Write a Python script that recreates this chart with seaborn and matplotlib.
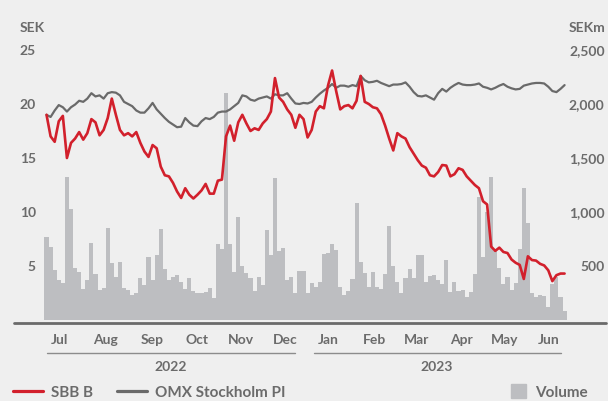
import numpy as np
import pandas as pd
import matplotlib
matplotlib.use("Agg")
import matplotlib.pyplot as plt
import seaborn as sns
from matplotlib.lines import Line2D
from matplotlib.patches import Patch

# share price (SEK) and index rebased to SBB, every second trading day
sbb_b = [
    19.0, 17.0, 16.5, 18.4, 18.9, 15.0, 16.4, 16.8, 17.4, 16.7,
    17.3, 18.6, 18.3, 17.1, 17.6, 18.7, 20.5, 19.0, 17.6, 17.1,
    17.3, 17.0, 17.4, 16.4, 15.6, 15.1, 16.2, 15.9, 14.2, 13.4,
    13.3, 12.7, 11.9, 11.3, 12.2, 11.6, 11.25, 11.6, 12.0, 12.6,
    11.7, 11.7, 12.9, 13.0, 17.0, 18.0, 16.6, 18.3, 19.0, 18.2,
    17.5, 17.75, 17.6, 18.2, 18.6, 19.3, 22.4, 20.6, 20.2, 19.5,
    19.0, 17.8, 19.0, 18.6, 16.9, 17.6, 19.3, 19.8, 19.6, 21.7,
    23.1, 21.2, 19.5, 19.8, 19.9, 19.6, 20.3, 22.6, 20.2, 20.0,
    19.7, 19.6, 19.05, 18.0, 16.8, 15.7, 17.3, 17.0, 16.8, 16.0,
    15.4, 14.8, 14.3, 14.1, 13.4, 13.3, 13.7, 14.35, 14.3, 13.3,
    13.5, 14.05, 13.9, 13.3, 12.9, 12.5, 12.2, 11.0, 10.7, 6.8,
    6.4, 6.7, 6.3, 6.2, 5.6, 5.3, 5.1, 3.8, 5.9, 5.55,
    5.5, 5.2, 5.05, 4.6, 3.6, 4.15, 4.3, 4.3,
]
omx_pi = [
    19.0, 18.8, 19.4, 19.9, 19.7, 19.3, 19.7, 19.95, 20.3, 20.2,
    20.5, 21.0, 20.7, 20.8, 20.5, 21.0, 21.1, 21.05, 20.8, 20.2,
    20.0, 19.8, 19.4, 19.2, 19.2, 19.6, 20.1, 19.5, 19.1, 18.7,
    18.35, 18.1, 17.85, 17.9, 18.7, 18.3, 18.0, 17.95, 18.4, 18.7,
    18.6, 18.8, 19.2, 19.3, 19.3, 19.5, 19.8, 20.1, 20.8, 20.7,
    20.4, 20.3, 20.5, 20.6, 20.7, 20.5, 20.9, 20.8, 20.8, 21.0,
    20.5, 20.05, 20.0, 20.1, 20.05, 20.2, 20.6, 20.95, 21.25, 21.5,
    21.85, 21.5, 21.7, 21.7, 21.6, 21.75, 21.65, 22.6, 22.2, 22.0,
    22.05, 22.15, 21.95, 21.8, 21.65, 21.8, 21.8, 21.85, 22.0, 21.6,
    21.1, 20.75, 20.7, 20.8, 20.6, 20.4, 21.0, 21.4, 21.15, 21.5,
    21.75, 21.95, 21.8, 21.75, 21.75, 21.8, 21.9, 21.6, 21.5, 21.35,
    21.5, 21.7, 21.85, 21.6, 21.45, 21.35, 21.4, 21.7, 21.8, 21.9,
    21.95, 21.95, 21.9, 21.6, 21.2, 21.1, 21.4, 21.75,
]
# turnover, SEKm
volume_sekm = [
    771, 673, 463, 370, 340, 1321, 1030, 480, 440, 290,
    370, 716, 430, 278, 300, 849, 531, 401, 540, 300,
    280, 232, 250, 386, 320, 586, 370, 600, 840, 470,
    370, 400, 417, 350, 290, 386, 270, 250, 247, 260,
    300, 200, 700, 654, 2105, 700, 440, 950, 500, 433,
    386, 270, 401, 320, 833, 600, 1312, 640, 664, 370,
    401, 247, 450, 450, 247, 340, 309, 350, 611, 620,
    700, 650, 309, 230, 270, 380, 1080, 540, 433, 310,
    440, 309, 285, 426, 870, 500, 350, 247, 386, 470,
    390, 600, 600, 355, 410, 420, 370, 330, 560, 260,
    350, 270, 278, 210, 262, 430, 1142, 580, 1000, 1327,
    640, 478, 330, 400, 278, 340, 654, 1219, 900, 250,
    210, 230, 220, 123, 330, 400, 210, 80,
]
month_labels = ["Jul", "Aug", "Sep", "Oct", "Nov", "Dec",
                "Jan", "Feb", "Mar", "Apr", "May", "Jun"]
year_labels = ["2022", "2023"]
sek_ticks = [5, 10, 15, 20, 25]
sekm_ticks = [500, 1000, 1500, 2000, 2500]

RED = "#d2202c"
GRAY = "#6a6a6a"
BAR = "#bdbec1"
BG = "#efefef"
TXT = "#6b6b6b"

trading_days = pd.bdate_range("2022-07-01", periods=2 * len(sbb_b))
df = pd.DataFrame({
    "day": np.arange(0, len(trading_days), 2),
    "date": trading_days[::2],
    "SBB B": sbb_b,
    "OMX Stockholm PI": omx_pi,
    "Volume": volume_sekm,
})

sns.set_theme(style="white")
plt.rcParams["font.family"] = ["Lato", "DejaVu Sans"]
plt.rcParams["font.weight"] = "bold"
plt.rcParams["font.size"] = 10

W, H = 608, 401
fig = plt.figure(figsize=(W / 100, H / 100), dpi=100, facecolor=BG)
ax = fig.add_axes([40 / W, 1 - 320 / H, 566 / W, 280.8 / H])
ax2 = ax.twinx()

sns.barplot(data=df, x="day", y="Volume", native_scale=True, width=1.0,
            color=BAR, saturation=1, linewidth=0, errorbar=None, ax=ax2)
sns.lineplot(data=df, x="day", y="OMX Stockholm PI", color=GRAY, lw=1.6, ax=ax)
sns.lineplot(data=df, x="day", y="SBB B", color=RED, lw=1.9, ax=ax)

ax.set_zorder(ax2.get_zorder() + 1)
ax.patch.set_visible(False)
ax2.patch.set_visible(False)

ax.set_xlim(-3.2, 274.3)
ax.set_ylim(0, 26)
ax2.set_ylim(0, 2600)
ax.set_xticks([])
ax.set_xlabel("")
ax.set_ylabel("")
ax2.set_ylabel("")
ax.set_yticks(sek_ticks, labels=[str(v) for v in sek_ticks])
ax.tick_params(axis="y", length=0, pad=3, labelcolor=TXT, labelsize=10)
ax2.set_yticks(sekm_ticks, labels=[f"{v:,}" for v in sekm_ticks], ha="right")
ax2.tick_params(axis="y", length=0, pad=-1, labelcolor=TXT, labelsize=10)
for a in (ax, ax2):
    for s in a.spines.values():
        s.set_visible(False)

fig.text(20 / W, 1 - 28 / H, "SEK", ha="left", va="center", color=TXT)
fig.text(605 / W, 1 - 28 / H, "SEKm", ha="right", va="center", color=TXT)
fig.add_artist(Line2D([14 / W, 606 / W], [1 - 323 / H] * 2, color=GRAY, lw=2.0))

# month labels at the first trading day of each month
periods = trading_days.to_period("M")
starts = np.r_[0, np.flatnonzero(periods[1:] != periods[:-1]) + 1]
xt = ax.get_xaxis_transform()
for lab, s in zip(month_labels, starts):
    ax.annotate(lab, xy=(s, 0), xycoords=xt, xytext=(4, -20),
                textcoords="offset pixels", ha="left", va="center", color=TXT)

# year brackets
ax_h = 280.8
years = trading_days.year
for lab in year_labels:
    idx = np.flatnonzero(years == int(lab))
    last_month = starts[(starts >= idx[0]) & (starts <= idx[-1])][-1]
    x0, x1 = idx[0], last_month + 13
    ax.plot([x0, x1], [-32.7 / ax_h] * 2, transform=xt, color="#8c8c8c",
            lw=1.0, clip_on=False)
    ax.text((x0 + x1) / 2, -47 / ax_h, lab, transform=xt, ha="center",
            va="center", color=TXT)

# legend entries placed one by one along the bottom edge
legend_items = [
    (Line2D([], [], color=RED, lw=2.3), "SBB B", 13, 1.95),
    (Line2D([], [], color=GRAY, lw=2.3), "OMX Stockholm PI", 117, 1.95),
    (Patch(color=BAR), "Volume", 511, 1.0),
]
for handle, label, left, hl in legend_items:
    fig.legend([handle], [label], loc="center left",
               bbox_to_anchor=(left / W, 1 - 392 / H), frameon=False,
               handlelength=hl, handleheight=1.0, handletextpad=0.55,
               borderpad=0, borderaxespad=0, labelcolor=TXT)

fig.savefig("out.png", dpi=100, facecolor=BG)
